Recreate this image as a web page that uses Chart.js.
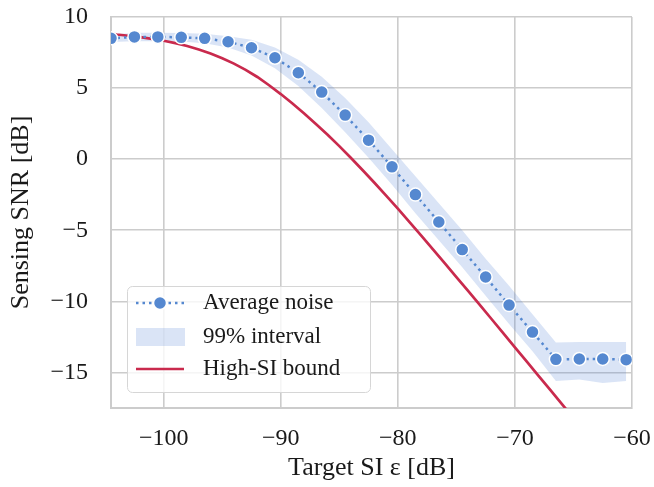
<!DOCTYPE html>
<html>
<head>
<meta charset="utf-8">
<script src="https://cdn.jsdelivr.net/npm/chart.js@4.4.1/dist/chart.umd.min.js"></script>
<style>
  html, body { margin: 0; padding: 0; background: #fff; }
  #wrap { width: 654px; height: 487px; }
</style>
</head>
<body>
<div id="wrap"><canvas id="snrChart" width="654" height="487"></canvas></div>
<script>
// simulated points (target SI in dB) and the 99% band around them
var targetSI = [-104.5, -102.5, -100.5, -98.5, -96.5, -94.5, -92.5, -90.5, -88.5, -86.5, -84.5, -82.5,
                -80.5, -78.5, -76.5, -74.5, -72.5, -70.5, -68.5, -66.5, -64.5, -62.5, -60.5];
var avgNoise = [8.5, 8.6, 8.6, 8.57, 8.5, 8.26, 7.84, 7.13, 6.08, 4.72, 3.1, 1.34,
                -0.54, -2.49, -4.42, -6.36, -8.29, -10.26, -12.16, -14.08, -14.05, -14.05, -14.1];
var intervalLow = [8.25, 8.3, 8.3, 8.28, 8.15, 7.85, 7.3, 6.4, 5.15, 3.6, 1.9, 0.1,
                   -1.8, -3.8, -5.7, -7.6, -9.6, -11.6, -13.5, -15.6, -15.5, -15.75, -15.6];
var intervalHigh = [8.75, 8.9, 8.9, 8.88, 8.82, 8.65, 8.4, 7.85, 7.0, 5.8, 4.3, 2.6,
                    0.7, -1.2, -3.1, -5.0, -7.0, -8.9, -10.9, -12.9, -12.85, -12.85, -12.85];

// analytic high-SI bound
var boundSI = [-104.5, -104, -103, -102, -101, -100, -99, -98, -97, -96, -95, -94, -93, -92, -91, -90,
               -89, -88, -87, -86, -85, -84, -83, -82, -81, -80, -79, -78, -77, -76, -75, -74,
               -73, -72, -71, -70, -69, -68, -67, -66, -65];
var boundSNR = [8.85, 8.77, 8.68, 8.58, 8.46, 8.33, 8.16, 7.96, 7.72, 7.44, 7.1, 6.72, 6.28, 5.78, 5.2, 4.58,
                3.92, 3.22, 2.48, 1.72, 0.92, 0.08, -0.78, -1.66, -2.56, -3.48, -4.42, -5.37, -6.34, -7.31, -8.29, -9.27,
                -10.25, -11.24, -12.23, -13.23, -14.22, -15.22, -16.21, -17.21, -18.21];

var xTicks = [-100, -90, -80, -70, -60];
var yTicks = [-15, -10, -5, 0, 5, 10];
var legendLabels = ['Average noise', '99% interval', 'High-SI bound'];

var blue = '#5588d0';
var bandColor = 'rgba(72, 120, 208, 0.2)';
var red = '#c92a4d';
var gridColor = '#cccccc';
var fontFamily = "'Liberation Serif', 'Times New Roman', serif";

function toXY(xs, ys) {
    var out = [];
    for (var i = 0; i < xs.length; i++) out.push({x: xs[i], y: ys[i]});
    return out;
}

function minusLabel(v) {
    return v < 0 ? '\u2212' + Math.abs(v) : String(v);
}

// legend drawn inside the plot, lower left
var innerLegend = {
    id: 'innerLegend',
    afterDraw: function(chart) {
        var ctx = chart.ctx;
        var x0 = 127, y0 = 286, w = 243, h = 106, r = 5;
        ctx.save();
        ctx.beginPath();
        ctx.roundRect(x0 + 0.5, y0 + 0.5, w, h, r);
        ctx.fillStyle = 'rgba(255,255,255,0.8)';
        ctx.fill();
        ctx.strokeStyle = '#d6d6d6';
        ctx.lineWidth = 1;
        ctx.stroke();

        var rows = [303, 337, 369];
        var hx0 = 136, hx1 = 184;

        // average noise: dotted line + marker
        ctx.beginPath();
        ctx.setLineDash([2.5, 4]);
        ctx.strokeStyle = blue;
        ctx.lineWidth = 2.5;
        ctx.moveTo(hx0, rows[0]);
        ctx.lineTo(hx1, rows[0]);
        ctx.stroke();
        ctx.setLineDash([]);
        ctx.beginPath();
        ctx.arc((hx0 + hx1) / 2, rows[0], 6.5, 0, Math.PI * 2);
        ctx.fillStyle = blue;
        ctx.fill();
        ctx.strokeStyle = '#ffffff';
        ctx.lineWidth = 1.5;
        ctx.stroke();

        // interval patch
        ctx.fillStyle = bandColor;
        ctx.fillRect(hx0, rows[1] - 9, hx1 - hx0 + 1, 18);

        // bound line
        ctx.beginPath();
        ctx.strokeStyle = red;
        ctx.lineWidth = 2.5;
        ctx.moveTo(hx0, rows[2]);
        ctx.lineTo(hx1, rows[2]);
        ctx.stroke();

        ctx.fillStyle = '#1a1a1a';
        ctx.font = '23px ' + fontFamily;
        ctx.textBaseline = 'middle';
        ctx.textAlign = 'left';
        for (var i = 0; i < legendLabels.length; i++) {
            ctx.fillText(legendLabels[i], 203, rows[i]);
        }
        ctx.restore();
    }
};

var ctx = document.getElementById('snrChart');
var snrChart = new Chart(ctx, {
    type: 'line',
    data: {
        datasets: [
            {
                label: 'Average noise',
                data: toXY(targetSI, avgNoise),
                borderColor: blue,
                borderWidth: 2.5,
                borderDash: [2.5, 4],
                pointRadius: 6.5,
                pointBackgroundColor: blue,
                pointBorderColor: '#ffffff',
                pointBorderWidth: 1.5,
                fill: false,
                tension: 0,
                order: 1
            },
            {
                label: 'High-SI bound',
                data: toXY(boundSI, boundSNR),
                borderColor: red,
                borderWidth: 2.7,
                pointRadius: 0,
                fill: false,
                tension: 0,
                order: 2
            },
            {
                label: 'lower',
                data: toXY(targetSI, intervalLow),
                borderWidth: 0,
                pointRadius: 0,
                fill: false,
                order: 3
            },
            {
                label: '99% interval',
                data: toXY(targetSI, intervalHigh),
                borderWidth: 0,
                pointRadius: 0,
                backgroundColor: bandColor,
                fill: 2,
                order: 3
            }
        ]
    },
    options: {
        responsive: false,
        animation: false,
        devicePixelRatio: 1,
        layout: { padding: { left: 0, right: 22, top: 17, bottom: 0 } },
        plugins: {
            legend: { display: false },
            tooltip: { enabled: false }
        },
        scales: {
            x: {
                type: 'linear',
                min: -104.5,
                max: -60,
                afterBuildTicks: function(scale) {
                    scale.ticks = xTicks.map(function(v) { return {value: v}; });
                },
                afterFit: function(scale) {
                    scale.height = 79;
                    scale.paddingLeft = 0;
                    scale.paddingRight = 0;
                },
                grid: { color: gridColor, lineWidth: 1.6, drawTicks: false },
                border: { display: true, color: gridColor, width: 2 },
                ticks: {
                    padding: 16,
                    maxRotation: 0,
                    color: '#1a1a1a',
                    font: { family: fontFamily, size: 24 },
                    callback: function(v) { return minusLabel(v); }
                },
                title: {
                    display: true,
                    text: 'Target SI \u03b5 [dB]',
                    color: '#1a1a1a',
                    font: { family: fontFamily, size: 26 },
                    padding: { top: 0, bottom: 3 }
                }
            },
            y: {
                type: 'linear',
                min: -17.5,
                max: 10,
                afterBuildTicks: function(scale) {
                    scale.ticks = yTicks.map(function(v) { return {value: v}; });
                },
                afterFit: function(scale) {
                    scale.width = 111;
                    scale.paddingTop = 0;
                    scale.paddingBottom = 0;
                },
                grid: { color: gridColor, lineWidth: 1.6, drawTicks: false },
                border: { display: true, color: gridColor, width: 2 },
                ticks: {
                    padding: 23,
                    color: '#1a1a1a',
                    font: { family: fontFamily, size: 24 },
                    callback: function(v) { return minusLabel(v); }
                },
                title: {
                    display: true,
                    text: 'Sensing SNR [dB]',
                    color: '#1a1a1a',
                    font: { family: fontFamily, size: 26 },
                    padding: { top: 6, bottom: 0 }
                }
            }
        }
    },
    plugins: [innerLegend]
});
</script>
</body>
</html>
